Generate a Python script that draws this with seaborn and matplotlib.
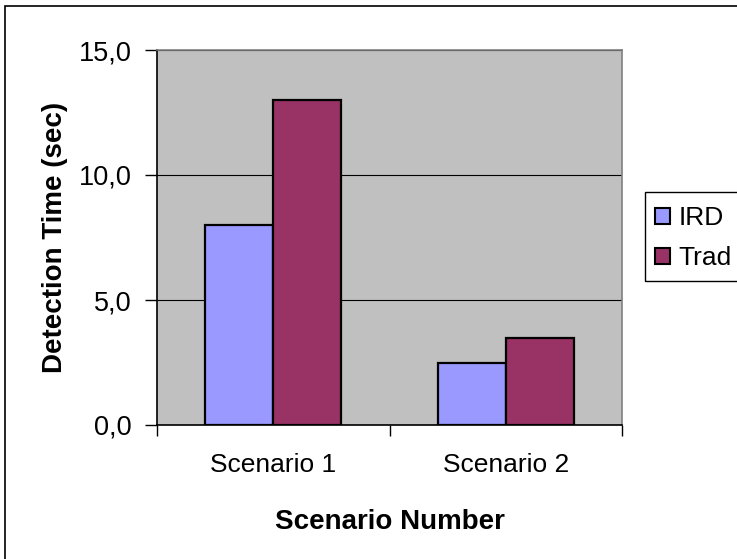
import matplotlib
matplotlib.use("Agg")
import matplotlib.pyplot as plt
from matplotlib.patches import Patch, Rectangle
from matplotlib.ticker import FuncFormatter, FixedLocator
import seaborn as sns
import pandas as pd

scenarios = ["Scenario 1", "Scenario 2"]
methods = ["IRD", "Trad"]
ird_times = [8.0, 2.5]
trad_times = [13.0, 3.5]
colors = {"IRD": "#9999FF", "Trad": "#993366"}

df = pd.DataFrame({
    "Scenario": scenarios * 2,
    "Method": ["IRD"] * len(scenarios) + ["Trad"] * len(scenarios),
    "Time": ird_times + trad_times,
})

sns.set_style("white")
plt.rcParams["font.family"] = ["Liberation Sans", "DejaVu Sans"]
plt.rcParams.update({"text.color": "black", "axes.labelcolor": "black",
                     "xtick.color": "black", "ytick.color": "black"})

W, H = 737, 559
fig = plt.figure(figsize=(W / 100, H / 100), dpi=100)
ax = fig.add_axes([157 / W, 1 - 425 / H, (622 - 157) / W, (425 - 50) / H])
ax.set_facecolor("#C0C0C0")

sns.barplot(data=df, x="Scenario", y="Time", hue="Method", order=scenarios,
            hue_order=methods, palette=colors, width=0.585, edgecolor="black",
            linewidth=1.6, saturation=1, legend=False, ax=ax, zorder=3)

ax.set_xlim(-0.5, 1.5)
ax.set_ylim(0, 15)
ax.set_yticks([0, 5, 10, 15])
ax.yaxis.set_major_formatter(FuncFormatter(lambda v, p: f"{v:.1f}".replace(".", ",")))
ax.grid(axis="y", color="black", linewidth=0.8, zorder=1)
ax.set_axisbelow(True)

# category ticks sit between groups; labels centred under each group
ax.xaxis.set_minor_locator(FixedLocator([-0.5, 0.5, 1.5]))
ax.tick_params(axis="x", which="major", length=0, pad=20, labelsize=19, labelcolor="black")
ax.tick_params(axis="x", which="minor", length=8, width=1, color="black", direction="out", bottom=True)
ax.tick_params(axis="y", length=9, width=1, color="black", direction="out", pad=9, labelsize=19.5,
               labelcolor="black", left=True)

for side in ("top", "right"):
    ax.spines[side].set_color("#808080")
    ax.spines[side].set_linewidth(1.2)
for side in ("left", "bottom"):
    ax.spines[side].set_color("black")
    ax.spines[side].set_linewidth(1.2)

ax.set_xlabel("Scenario Number", fontsize=20, fontweight="bold", labelpad=23, color="black")
ax.set_ylabel("Detection Time (sec)", fontsize=20, fontweight="bold", labelpad=8, color="black")

# outer chart border
fig.patches.append(Rectangle((5 / W, -0.1), 1.2, 1 - 6 / H + 0.1, transform=fig.transFigure,
                             fill=False, edgecolor="black", linewidth=1.2))
# legend frame
fig.patches.append(Rectangle((645 / W, 1 - 281 / H), 0.3, (281 - 192) / H, transform=fig.transFigure,
                             fill=False, edgecolor="black", linewidth=1.0))

handles = [Patch(facecolor=colors[m], edgecolor="black", linewidth=1.5) for m in methods]
leg = fig.legend(handles, methods, loc="upper left", bbox_to_anchor=(655 / W, 1 - 206 / H),
                 frameon=False, fontsize=19, handlelength=0.55, handleheight=0.55,
                 handletextpad=0.35, labelspacing=0.62, borderpad=0, borderaxespad=0)
for t in leg.get_texts():
    t.set_color("black")

fig.savefig("out.png", dpi=100)
